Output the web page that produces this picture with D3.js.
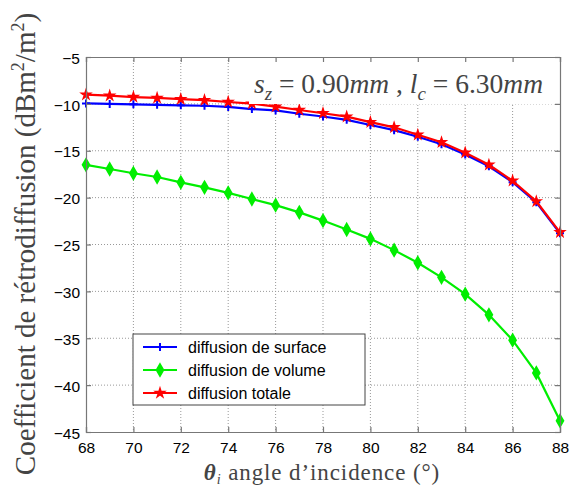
<!DOCTYPE html>
<html><head><meta charset="utf-8">
<script src="https://cdn.jsdelivr.net/npm/d3@7"></script>
<style>body{margin:0;background:#fff}svg{display:block}</style>
</head><body>
<svg id="c" width="576" height="503"></svg>
<script>
const angles = [68,69,70,71,72,73,74,75,76,77,78,79,80,81,82,83,84,85,86,87,88];
const surface = [-9.95,-10.0,-10.05,-10.1,-10.15,-10.2,-10.33,-10.55,-10.7,-11.05,-11.35,-11.7,-12.25,-12.8,-13.5,-14.3,-15.4,-16.65,-18.35,-20.5,-23.8];
const volume = [-16.5,-16.95,-17.4,-17.8,-18.37,-18.9,-19.5,-20.15,-20.8,-21.57,-22.45,-23.4,-24.4,-25.6,-26.95,-28.5,-30.3,-32.5,-35.2,-38.7,-43.8];
const totale = [-9.02,-9.13,-9.27,-9.37,-9.5,-9.6,-9.8,-9.97,-10.3,-10.65,-11.0,-11.36,-11.95,-12.5,-13.3,-14.1,-15.2,-16.5,-18.2,-20.4,-23.7];
const xTicks = [68,70,72,74,76,78,80,82,84,86,88];
const yTicks = [-5,-10,-15,-20,-25,-30,-35,-40,-45];
const seriesNames = ["diffusion de surface","diffusion de volume","diffusion totale"];
const seriesColors = ["#0000ff","#00ee00","#ff0000"];

const svg = d3.select("#c");
const L=86, R=560, T=57, B=432;
const x = d3.scaleLinear().domain([68,88]).range([L,R]);
const y = d3.scaleLinear().domain([-45,-5]).range([B,T]);

// grid
const g = svg.append("g");
g.selectAll(".gx").data(xTicks.slice(1,-1)).enter().append("line")
 .attr("x1",d=>x(d)).attr("x2",d=>x(d)).attr("y1",T).attr("y2",B)
 .attr("stroke","#999").attr("stroke-width",1).attr("stroke-dasharray","1,2");
g.selectAll(".gy").data(yTicks.slice(1,-1)).enter().append("line")
 .attr("y1",d=>y(d)).attr("y2",d=>y(d)).attr("x1",L).attr("x2",R)
 .attr("stroke","#999").attr("stroke-width",1).attr("stroke-dasharray","1,2");

const data = [surface, volume, totale];
const line = d3.line().x((d,i)=>x(angles[i])).y(d=>y(d));
const symbols = [
  null,
  d3.symbol().type(d3.symbolDiamond).size(40),
  d3.symbol().type(d3.symbolStar).size(20)
];
function drawMarker(sel, k, cx, cy){
  if(k===0){
    sel.append("path").attr("d",`M${cx-4},${cy}H${cx+4}M${cx},${cy-4}V${cy+4}`)
      .attr("stroke",seriesColors[k]).attr("stroke-width",2).attr("fill","none");
  } else {
    sel.append("path").attr("d",symbols[k]()).attr("transform",`translate(${cx},${cy})`)
      .attr("fill",seriesColors[k]).attr("stroke",seriesColors[k]).attr("stroke-width",1.8);
  }
}
data.forEach((ser,k)=>{
  const gg = svg.append("g");
  gg.append("path").datum(ser).attr("d",line).attr("fill","none")
    .attr("stroke",seriesColors[k]).attr("stroke-width",2.2);
  ser.forEach((v,i)=>drawMarker(gg,k,x(angles[i]),y(v)));
});

// annotation box
svg.append("rect").attr("x",249).attr("y",T+1).attr("width",R-249).attr("height",46).attr("fill","#fff");
const ann = svg.append("text").attr("x",254).attr("y",93)
  .attr("font-family","'Liberation Serif','DejaVu Serif',serif").attr("font-size",27.5).attr("fill","#444");
ann.append("tspan").attr("font-style","italic").text("s");
ann.append("tspan").attr("font-style","italic").attr("font-size",19).attr("dy",7).text("z");
ann.append("tspan").attr("dy",-7).text(" = 0.90");
ann.append("tspan").attr("font-style","italic").text("mm");
ann.append("tspan").text(" , ");
ann.append("tspan").attr("font-style","italic").text("l");
ann.append("tspan").attr("font-style","italic").attr("font-size",19).attr("dy",7).text("c");
ann.append("tspan").attr("dy",-7).text(" = 6.30");
ann.append("tspan").attr("font-style","italic").text("mm");

// axes
const ax = svg.append("g").attr("transform",`translate(0,${B})`)
  .call(d3.axisBottom(x).tickValues(xTicks).tickSize(-5).tickPadding(10).tickFormat(d3.format("d")));
const axT = svg.append("g").attr("transform",`translate(0,${T})`)
  .call(d3.axisTop(x).tickValues(xTicks).tickSize(-5).tickFormat(""));
const ay = svg.append("g").attr("transform",`translate(${L},0)`)
  .call(d3.axisLeft(y).tickValues(yTicks).tickSize(-5).tickPadding(6).tickFormat(d=>"\u2212"+Math.abs(d)));
const ayR = svg.append("g").attr("transform",`translate(${R},0)`)
  .call(d3.axisRight(y).tickValues(yTicks).tickSize(-5).tickFormat(""));
[ax,axT,ay,ayR].forEach(a=>{
  a.selectAll("path,line").attr("stroke","#777").attr("stroke-width",1.2);
  a.selectAll("text").attr("font-family","'Liberation Sans',Arial,sans-serif").attr("font-size",15.5).attr("fill","#000");
});
ay.selectAll("text").attr("dy","0.4em");

// legend
const lg = svg.append("g");
lg.append("rect").attr("x",133).attr("y",334).attr("width",232).attr("height",71)
  .attr("fill","#fff").attr("stroke","#444").attr("stroke-width",1);
seriesNames.forEach((n,k)=>{
  const yy = 347 + k*23;
  lg.append("line").attr("x1",143).attr("x2",177).attr("y1",yy).attr("y2",yy)
    .attr("stroke",seriesColors[k]).attr("stroke-width",2.2);
  drawMarker(lg,k,160,yy);
  lg.append("text").attr("x",188).attr("y",yy).attr("dy","0.36em")
    .attr("font-family","'Liberation Sans',Arial,sans-serif").attr("font-size",16).text(n);
});

// axis titles
const xl = svg.append("text").attr("x",322).attr("y",480).attr("text-anchor","middle")
  .attr("font-family","'Liberation Serif','DejaVu Serif',serif").attr("font-size",23).attr("letter-spacing",0.9).attr("fill","#444");
xl.append("tspan").attr("font-style","italic").attr("font-weight","bold").text("θ");
xl.append("tspan").attr("font-style","italic").attr("font-size",14).attr("dy",4).text("i");
xl.append("tspan").attr("dy",-4).text(" angle d\u2019incidence (°)");

const yl = svg.append("text").attr("transform","translate(35,244) rotate(-90)").attr("text-anchor","middle")
  .attr("font-family","'Liberation Serif','DejaVu Serif',serif").attr("font-size",29).attr("fill","#444");
yl.append("tspan").text("Coefficient de rétrodiffusion (dBm");
yl.append("tspan").attr("font-size",18).attr("dy",-11).text("2");
yl.append("tspan").attr("dy",11).text("/m");
yl.append("tspan").attr("font-size",18).attr("dy",-11).text("2");
yl.append("tspan").attr("dy",11).text(")");
</script>
</body></html>
